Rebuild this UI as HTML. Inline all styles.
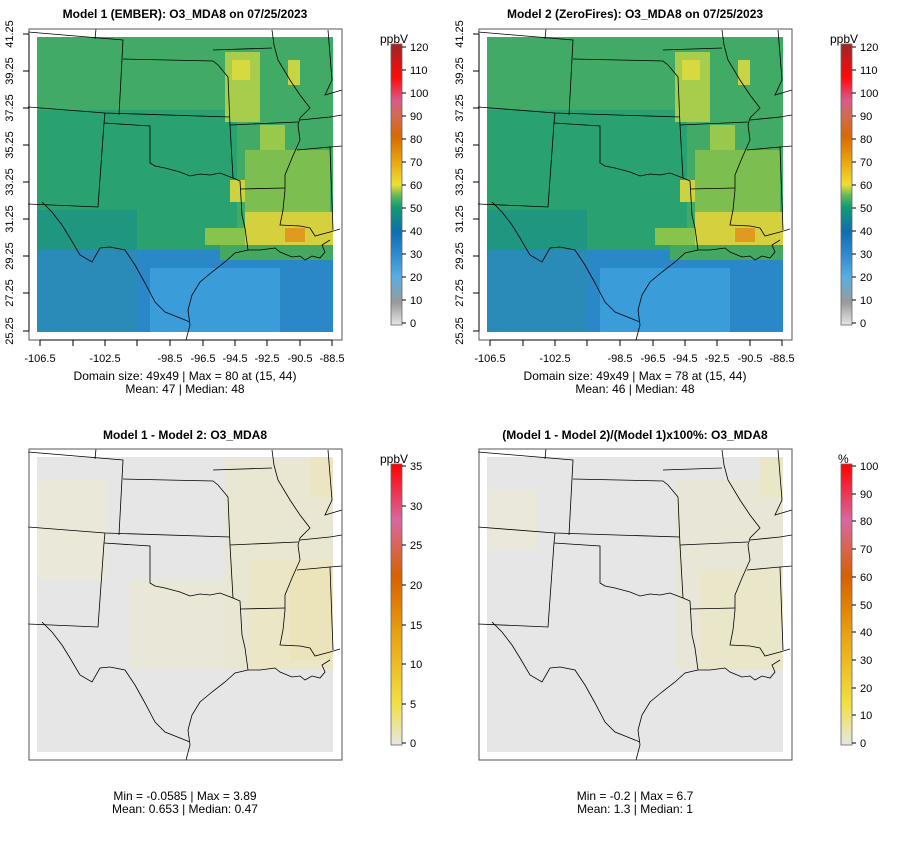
<!DOCTYPE html>
<html><head><meta charset="utf-8"><style>
body{margin:0;background:#fff}
svg text{font-family:"Liberation Sans",sans-serif;fill:#000}
</style></head><body>
<svg width="900" height="840" viewBox="0 0 900 840" xmlns="http://www.w3.org/2000/svg">
<defs>
<linearGradient id="cb1" x1="0" y1="1" x2="0" y2="0">
<stop offset="0" stop-color="#e6e6e6"/><stop offset="0.08" stop-color="#9a9a9a"/>
<stop offset="0.17" stop-color="#5aaee0"/><stop offset="0.25" stop-color="#2f8bd0"/>
<stop offset="0.33" stop-color="#0e6eb0"/><stop offset="0.42" stop-color="#119b72"/>
<stop offset="0.46" stop-color="#5fb85a"/><stop offset="0.5" stop-color="#eedf30"/>
<stop offset="0.58" stop-color="#e8a810"/><stop offset="0.67" stop-color="#d86a00"/>
<stop offset="0.75" stop-color="#d06a58"/><stop offset="0.8" stop-color="#d85a8a"/>
<stop offset="0.88" stop-color="#ff0a0a"/><stop offset="1" stop-color="#a02424"/>
</linearGradient>
<linearGradient id="cb2" x1="0" y1="1" x2="0" y2="0">
<stop offset="0" stop-color="#e6e6e6"/><stop offset="0.15" stop-color="#f0e040"/>
<stop offset="0.4" stop-color="#e8a010"/><stop offset="0.6" stop-color="#d86000"/>
<stop offset="0.8" stop-color="#d868a0"/><stop offset="1" stop-color="#ff0000"/>
</linearGradient>
<g id="borders" fill="none" stroke="#000" stroke-width="0.8">
<polyline points="28,32 123,40 119,115"/>
<polyline points="96,29 95,39"/>
<polyline points="123,59 213,61 218,65 228,77 230,125 233,178"/>
<polyline points="28,107 105,113 230,117"/>
<polyline points="105,113 104,123 98,207 28,204"/>
<polyline points="104,123 150,126 150,163 155,166 165,168 180,172 190,176 200,174 210,175 220,173 233,178 240,181 242,215 245,228 248,250"/>
<polyline points="230,125 298,122"/>
<polyline points="240,189 285,188"/>
<polyline points="272,30 274,45 278,60 290,80 300,95 310,108 300,118 298,125 300,140 292,158 285,175 285,190 283,210 280,225 300,226 310,228 315,236 330,232 340,229"/>
<polyline points="300,120 330,117 342,115"/>
<polyline points="297,150 330,147 342,146"/>
<polyline points="330,147 333,230"/>
<polyline points="213,50 272,48"/>
<polyline points="328,30 332,80 325,95 342,90"/>
<polyline points="248,250 260,250 275,248 280,252 292,257 300,256 305,260 312,256 320,258 325,252 322,245 330,240"/>
<polyline points="248,250 235,253 225,262 212,272 200,282 192,295 188,310 190,325 186,340"/>
<polyline points="42,202 52,212 62,225 70,238 80,255 92,262 100,248 110,247 125,250 135,265 145,283 155,302 165,312 180,318 190,322"/>
</g>
<g id="axes" font-size="11">
<line x1="40" y1="340" x2="332" y2="340" stroke="#000"/>
<g stroke="#000"><line x1="40" y1="340" x2="40" y2="346"/><line x1="73" y1="340" x2="73" y2="346"/><line x1="105" y1="340" x2="105" y2="346"/><line x1="137" y1="340" x2="137" y2="346"/><line x1="170" y1="340" x2="170" y2="346"/><line x1="203" y1="340" x2="203" y2="346"/><line x1="235" y1="340" x2="235" y2="346"/><line x1="267" y1="340" x2="267" y2="346"/><line x1="300" y1="340" x2="300" y2="346"/><line x1="332" y1="340" x2="332" y2="346"/></g>
<g text-anchor="middle"><text x="40" y="362">-106.5</text><text x="105" y="362">-102.5</text><text x="170" y="362">-98.5</text><text x="203" y="362">-96.5</text><text x="235" y="362">-94.5</text><text x="267" y="362">-92.5</text><text x="300" y="362">-90.5</text><text x="332" y="362">-88.5</text></g>
<line x1="29" y1="34" x2="29" y2="331" stroke="#000"/>
<g stroke="#000"><line x1="23" y1="34" x2="29" y2="34"/><line x1="23" y1="71" x2="29" y2="71"/><line x1="23" y1="108" x2="29" y2="108"/><line x1="23" y1="145" x2="29" y2="145"/><line x1="23" y1="182" x2="29" y2="182"/><line x1="23" y1="219" x2="29" y2="219"/><line x1="23" y1="256" x2="29" y2="256"/><line x1="23" y1="293" x2="29" y2="293"/><line x1="23" y1="331" x2="29" y2="331"/></g>
<g text-anchor="middle"><text transform="translate(13,34) rotate(-90)">41.25</text><text transform="translate(13,71) rotate(-90)">39.25</text><text transform="translate(13,108) rotate(-90)">37.25</text><text transform="translate(13,145) rotate(-90)">35.25</text><text transform="translate(13,182) rotate(-90)">33.25</text><text transform="translate(13,219) rotate(-90)">31.25</text><text transform="translate(13,256) rotate(-90)">29.25</text><text transform="translate(13,293) rotate(-90)">27.25</text><text transform="translate(13,331) rotate(-90)">25.25</text></g>
</g>
<g id="map1">
<rect x="37" y="37" width="296" height="295" fill="#40aa66"/>
<rect x="37" y="110" width="200" height="140" fill="#2aa270"/>
<rect x="37" y="210" width="100" height="50" fill="#1e9680"/>
<rect x="37" y="250" width="296" height="82" fill="#2a88c8"/>
<rect x="37" y="250" width="100" height="82" fill="#2a8ab8"/>
<rect x="150" y="268" width="130" height="64" fill="#3a9cd8"/>
<rect x="220" y="245" width="113" height="15" fill="#45a860"/>
<rect x="225" y="52" width="35" height="70" fill="#a8cc4c"/>
<rect x="232" y="60" width="18" height="20" fill="#d8d840"/>
<rect x="260" y="125" width="25" height="30" fill="#98c84c"/>
<rect x="288" y="60" width="12" height="25" fill="#c8d445"/>
<rect x="230" y="180" width="15" height="22" fill="#ccd242"/>
<rect x="245" y="212" width="88" height="33" fill="#d4d03e"/>
<rect x="285" y="228" width="20" height="14" fill="#e09a20"/>
<rect x="205" y="228" width="40" height="17" fill="#88c44c"/>
<rect x="245" y="150" width="85" height="62" fill="#7cbe50"/>
</g>
<g id="frame"><rect x="29" y="29" width="313" height="311" fill="none" stroke="#555" stroke-width="1"/></g>
</defs>

<text x="185" y="18" font-size="12" font-weight="bold" text-anchor="middle">Model 1 (EMBER): O3_MDA8 on 07/25/2023</text>
<use href="#map1"/><use href="#borders"/><use href="#frame"/><use href="#axes"/>
<text x="185" y="380" font-size="12" text-anchor="middle">Domain size: 49x49 | Max = 80 at (15, 44)</text>
<text x="185" y="393" font-size="12" text-anchor="middle">Mean: 47 |  Median: 48</text>

<g transform="translate(450,0)">
<text x="185" y="18" font-size="12" font-weight="bold" text-anchor="middle">Model 2 (ZeroFires): O3_MDA8 on 07/25/2023</text>
<use href="#map1"/><use href="#borders"/><use href="#frame"/><use href="#axes"/>
<text x="185" y="380" font-size="12" text-anchor="middle">Domain size: 49x49 | Max = 78 at (15, 44)</text>
<text x="185" y="393" font-size="12" text-anchor="middle">Mean: 46 |  Median: 48</text>
</g>

<g font-size="11">
<g id="cbA">
<rect x="391" y="44" width="11" height="281" fill="url(#cb1)" stroke="#666" stroke-width="0.8"/>
<text x="380" y="43" font-size="12">ppbV</text>
<g stroke="#000"><line x1="402" y1="47" x2="406" y2="47"/><line x1="402" y1="70" x2="406" y2="70"/><line x1="402" y1="93" x2="406" y2="93"/><line x1="402" y1="116" x2="406" y2="116"/><line x1="402" y1="139" x2="406" y2="139"/><line x1="402" y1="162" x2="406" y2="162"/><line x1="402" y1="185" x2="406" y2="185"/><line x1="402" y1="208" x2="406" y2="208"/><line x1="402" y1="231" x2="406" y2="231"/><line x1="402" y1="254" x2="406" y2="254"/><line x1="402" y1="277" x2="406" y2="277"/><line x1="402" y1="300" x2="406" y2="300"/><line x1="402" y1="323" x2="406" y2="323"/></g>
<text x="410" y="51">120</text><text x="410" y="74">110</text><text x="410" y="97">100</text><text x="410" y="120">90</text><text x="410" y="143">80</text><text x="410" y="166">70</text><text x="410" y="189">60</text><text x="410" y="212">50</text><text x="410" y="235">40</text><text x="410" y="258">30</text><text x="410" y="281">20</text><text x="410" y="304">10</text><text x="410" y="327">0</text>
</g>
<use href="#cbA" transform="translate(450,0)"/>
</g>

<text x="185" y="439" font-size="12" font-weight="bold" text-anchor="middle">Model 1 - Model 2: O3_MDA8</text>
<g transform="translate(0,420)">
<rect x="37" y="37" width="296" height="295" fill="#e6e6e6"/>
<rect x="37" y="60" width="70" height="100" fill="#eae8d8"/>
<rect x="130" y="160" width="110" height="90" fill="#e9e7d8"/>
<rect x="225" y="40" width="108" height="210" fill="#e9e6d2"/>
<rect x="250" y="140" width="83" height="110" fill="#ebe6c6"/>
<rect x="290" y="150" width="43" height="90" fill="#ebe4ba"/>
<rect x="310" y="37" width="23" height="40" fill="#ebe5c2"/>
<use href="#borders"/><use href="#frame"/>
<rect x="391" y="44" width="11" height="281" fill="url(#cb2)" stroke="#666" stroke-width="0.8"/>
<text x="380" y="43" font-size="12">ppbV</text>
<g stroke="#000"><line x1="402" y1="46" x2="406" y2="46"/><line x1="402" y1="86" x2="406" y2="86"/><line x1="402" y1="125" x2="406" y2="125"/><line x1="402" y1="165" x2="406" y2="165"/><line x1="402" y1="205" x2="406" y2="205"/><line x1="402" y1="244" x2="406" y2="244"/><line x1="402" y1="284" x2="406" y2="284"/><line x1="402" y1="323" x2="406" y2="323"/></g>
<g font-size="11"><text x="410" y="50">35</text><text x="410" y="90">30</text><text x="410" y="129">25</text><text x="410" y="169">20</text><text x="410" y="209">15</text><text x="410" y="248">10</text><text x="410" y="288">5</text><text x="410" y="327">0</text></g>
</g>
<text x="185" y="800" font-size="12" text-anchor="middle">Min = -0.0585 | Max = 3.89</text>
<text x="185" y="813" font-size="12" text-anchor="middle">Mean: 0.653 |  Median: 0.47</text>

<g transform="translate(450,0)">
<text x="185" y="439" font-size="12" font-weight="bold" text-anchor="middle">(Model 1 - Model 2)/(Model 1)x100%: O3_MDA8</text>
<g transform="translate(0,420)">
<rect x="37" y="37" width="296" height="295" fill="#e6e6e6"/>
<rect x="37" y="70" width="50" height="60" fill="#e9e8da"/>
<rect x="225" y="60" width="108" height="190" fill="#e8e6d6"/>
<rect x="250" y="150" width="83" height="100" fill="#eae6ca"/>
<rect x="310" y="37" width="23" height="40" fill="#eae6c8"/>
<use href="#borders"/><use href="#frame"/>
<rect x="391" y="44" width="11" height="281" fill="url(#cb2)" stroke="#666" stroke-width="0.8"/>
<text x="388" y="43" font-size="12">%</text>
<g stroke="#000"><line x1="402" y1="46" x2="406" y2="46"/><line x1="402" y1="74" x2="406" y2="74"/><line x1="402" y1="101" x2="406" y2="101"/><line x1="402" y1="129" x2="406" y2="129"/><line x1="402" y1="157" x2="406" y2="157"/><line x1="402" y1="185" x2="406" y2="185"/><line x1="402" y1="212" x2="406" y2="212"/><line x1="402" y1="240" x2="406" y2="240"/><line x1="402" y1="268" x2="406" y2="268"/><line x1="402" y1="295" x2="406" y2="295"/><line x1="402" y1="323" x2="406" y2="323"/></g>
<g font-size="11"><text x="410" y="50">100</text><text x="410" y="78">90</text><text x="410" y="105">80</text><text x="410" y="133">70</text><text x="410" y="161">60</text><text x="410" y="189">50</text><text x="410" y="216">40</text><text x="410" y="244">30</text><text x="410" y="272">20</text><text x="410" y="299">10</text><text x="410" y="327">0</text></g>
</g>
<text x="185" y="800" font-size="12" text-anchor="middle">Min = -0.2 | Max = 6.7</text>
<text x="185" y="813" font-size="12" text-anchor="middle">Mean: 1.3 |  Median: 1</text>
</g>
</svg>
</body></html>
